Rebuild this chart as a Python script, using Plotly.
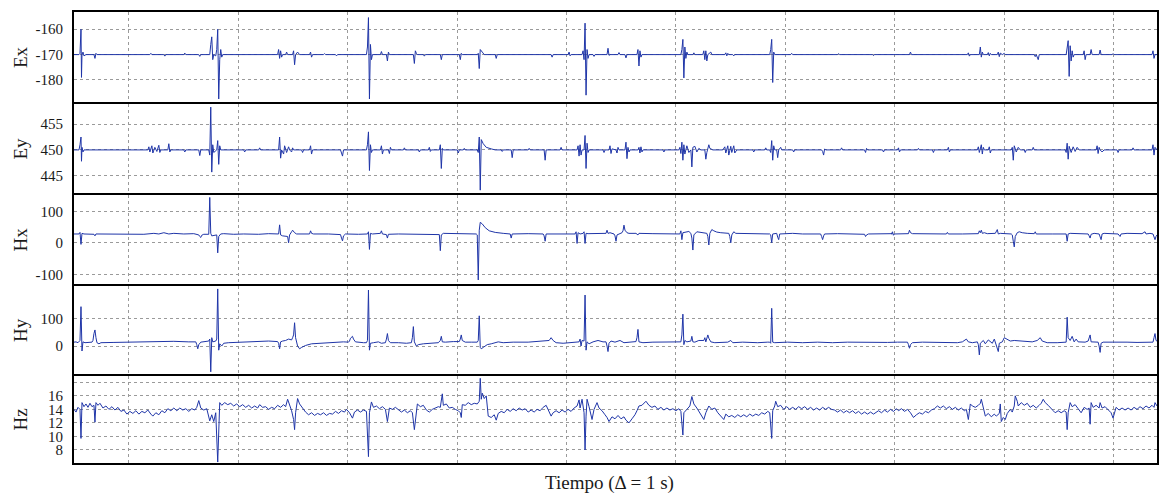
import plotly.graph_objects as go

# Each series: (time sample, value) vertices
ex_pts = [(0,-170),(5,-170),(6,-169.5),(7,-160),(7.5,-179),(8,-170),(9,-169),(10,-170.5),(12,-170),
(20,-170),(21,-171.5),(22,-169.5),(23,-170),
(76,-170),(77,-169.5),(78,-170),(90,-170),(91,-170.6),(92,-170),(110,-170),(111,-169.4),(112,-170),(125,-170),(126,-170.7),(127,-170),
(136,-170),(137,-166),(138,-163),(139,-172),(140,-170),
(142,-170.5),(143,-168),(144,-160),(145,-187.5),(146,-172),(147,-168),(148,-171),(149,-170),
(204,-170),(205,-168),(206,-171.5),(207,-168.5),(208,-171),(209,-170),(212,-170),(213,-169),(214,-170),
(219,-170),(220,-168.5),(221,-174),(222,-170),(224,-169),(226,-170),
(236,-170),(237,-169),(238,-171),(239,-170),
(250,-170),(251,-169.6),(252,-170),(262,-170),(263,-170.5),(264,-170),
(293,-170),(294,-167),(295,-155.4),(296,-187.5),(297,-166),(298,-172),(299,-170),
(307,-170),(308,-168.8),(309,-170),
(313,-170),(314,-172.5),(315,-169),(316,-170),
(340,-170),(341,-173.5),(342,-168.5),(343,-169.5),(344,-170),(350,-170),(351,-170.6),(352,-170),
(367,-170),(368,-172),(369,-170),
(386,-170),(387,-172),(388,-169.5),(389,-170),
(404,-170),(405,-169.5),(406,-175.5),(407,-168),(409,-169),(411,-170),
(422,-170),(423,-171.5),(424,-170),
(478,-170),(479,-171),(480,-170),
(495,-170),(496,-169),(497,-170.5),(498,-170),
(509,-170),(510,-168.5),(511,-172),(512,-157.6),(513,-186),(514,-168),(515,-171.5),(516,-170),(520,-170),(521,-170.7),(522,-170),
(534,-170),(535,-167.5),(536,-170.3),(537,-170),(545,-170),(546,-169.2),(547,-170),
(552,-170),(553,-171.3),(554,-170),
(564,-170),(565,-168),(566,-174.5),(567,-168.5),(568,-171),(569,-170),
(608,-170),(609,-168),(610,-164),(611,-179.2),(612,-167),(613,-171.5),(614,-169),(615,-170),(620,-170),(621,-169.3),(622,-170),
(630,-170),(631,-168.5),(632,-172),(633,-168.5),(634,-172.5),(635,-170),(638,-169),(639,-170),
(652,-170),(653,-169.3),(654,-170.5),(655,-169.5),(656,-170),(660,-170),(661,-170.5),(662,-170),
(697,-170),(698,-168),(699,-164),(700,-181),(701,-169),(702,-170),
(718,-170),(719,-169.5),(720,-170),
(765,-170),(766,-169.6),(767,-170),(800,-170),(801,-170.4),(802,-170),
(837,-170),(838,-169),(839,-170),
(895,-170),(896,-169.3),(897,-170.6),(898,-170),
(907,-170),(908,-167),(909,-171),(910,-169),(911,-170),(915,-170),(916,-169.2),(917,-170.5),(918,-169.5),(919,-170),
(925,-170),(926,-169),(927,-170.8),(928,-169.4),(930,-170),(932,-169.5),(933,-170),
(962,-170),(963,-170.8),(964,-170),(966,-172),(967,-170),
(994,-170),(995,-167.5),(996,-164.5),(997,-178.6),(998,-166.5),(999,-172.5),(1000,-168.5),(1001,-171),(1002,-170),
(1011,-170),(1012,-168.5),(1013,-172),(1014,-170),(1018,-170),(1019,-168),(1020,-170),
(1027,-170),(1028,-168.2),(1029,-170),(1040,-170),(1041,-169.6),(1042,-170),
(1080,-170),(1081,-168.5),(1082,-171.5),(1083,-170),(1085,-170)]

ey_pts = [(0,450),(5,450),(6,451),(7,452.5),(7.5,447.8),(8,450.5),(9,449.6),(10,450),
(74,450),(75,450.6),(76,449.6),(78,450.8),(79,449.4),(81,450.5),(83,449.7),(85,450.9),(86,449.5),(87,450),
(94,450),(95,451.2),(96,449.6),(97,450),
(110,450),(111,449.6),(112,450),
(125,450),(126,448.9),(127,450),
(135,450),(136,449),(137,458.3),(138,445.7),(139,451),(140,449.5),
(143,450),(144,451.8),(145,447.2),(146,450.8),(147,450),
(170,450),(171,449.6),(172,450),(185,450),(186,450.4),(187,450),
(205,450),(206,452.5),(207,448.4),(208,450),(210,449.2),(211,450.8),(213,449.5),(215,450.6),(216,450),(218,449.6),(219,450.4),(220,450),
(228,450),(229,449.5),(230,450),
(236,450),(237,450.8),(238,449.2),(239,450),
(267,450),(268,449.5),(269,448.8),(270,450),
(293,450),(294,451),(295,453.5),(296,446),(297,451),(298,449.5),(299,450),
(307,450),(308,450.8),(309,449.2),(310,450),
(315,450),(316,449.3),(317,450.5),(318,450),
(330,450),(331,450.4),(332,450),
(345,450),(346,449.6),(347,450),(355,450),(356,450.5),(357,449.7),(358,450),
(366,450),(367,451),(368,446.4),(369,450.3),(370,450),
(384,450),(385,449.4),(386,450),(390,450),(391,450.3),(392,450),
(404,450),(405,449.5),(406,452.5),(407,442.2),(408,452),(410,451.2),(413,450.5),(418,450.2),(422,450),
(428,450),(429,449.7),(430,450),
(438,450),(439,448.5),(440,450),
(455,450),(456,450.3),(457,450),
(471,450),(472,448),(473,450),
(487,450),(488,450.5),(489,450),
(504,450),(505,450.8),(506,448.8),(507,451),(508,449),(509,450),
(511,450),(512,452.8),(513,446.4),(514,451.3),(515,449.5),(516,450),
(530,450),(531,449.5),(532,450),(536,450),(537,450.8),(538,449.3),(539,450.2),(543,450),(544,449.4),(545,450.5),(546,450),
(552,450),(553,451.5),(554,448.3),(555,450.5),(556,449.6),(557,450),(565,450),(566,450.5),(567,449.4),(568,450.6),(569,449.6),(570,450),
(590,450),(591,449.6),(592,450),(606,450),(607,450.5),(608,449.3),
(609,451.5),(610,448),(611,451),(612,449.2),(614,450.8),(616,449.5),
(618,450),(619,446.7),(620,450.5),(622,450.7),(624,449.6),(626,450.3),(628,450),
(632,450),(633,448.2),(634,449.5),(636,451),(637,450.3),(640,450),
(650,450),(652,450.6),(653,449.4),(655,450.8),(656,449),(658,450.7),(659,449.5),(661,450.8),(662,449.4),(664,450),
(680,450),(681,449.6),(682,450),(692,450),(693,450.4),(694,450),
(697,450),(698,449.5),(699,451.8),(700,448),(701,450.8),(702,450),
(704,450),(705,448.5),(706,450),(708,450.5),(709,450),
(720,450),(721,449.6),(722,450),
(749,450),(750,449.7),(751,449),(752,450.2),(753,450),
(768,450),(769,450.4),(770,450),
(792,450),(793,449.5),(794,450.3),(795,450),
(810,450),(811,449.6),(812,450),(825,450),(826,450.4),(827,449.6),(828,450),
(845,450),(846,450.3),(847,450),(860,450),(861,449.5),(862,450),(875,450),(876,450.5),(877,449.6),(878,450),
(905,450),(906,450.6),(907,449.5),(909,451),(910,449.2),(911,450.5),(912,450),(916,450),(917,450.6),(918,449.4),(919,450),
(939,450),(940,450.5),(941,448),(942,450.8),(944,449.6),(946,450.5),(948,450),(952,450),(953,449.5),(954,450),(960,450),(961,450.5),(962,450),
(993,450),(994,449.5),(995,451.3),(996,448.2),(997,450.7),(999,449.5),(1001,450.6),(1003,449.7),(1005,450.5),(1007,450),
(1024,450),(1025,450.8),(1026,449.3),(1027,450.5),(1028,450),(1030,449.6),(1032,450),
(1045,450),(1046,449.5),(1047,450),(1060,450),(1061,450.4),(1062,450),
(1080,450),(1081,451),(1082,449),(1083,450.5),(1085,450)]

hx_pts = [(0,28),(5,28),(6,33),(7,-5),(8,30),(10,28),
(20,27),(21,22),(22,28),
(40,28),(60,29),(70,27),(80,30),(85,28),(90,32),(95,28),(100,30),(110,28),(120,29),
(125,25),(126,20),(127,17),(128,24),(130,27),
(135,27),(136,144),(137,30),(138,22),
(143,25),(144,-32),(145,20),(147,28),(150,29),
(160,27),(170,28),(185,27),(195,29),
(204,27),(205,28),(206,57),(207,25),(209,22),(212,22),
(214,20),(215,0),(216,25),(218,35),(219,40),(221,32),(223,28),
(236,28),(237,38),(238,30),(240,28),
(255,28),(265,27),
(267,26),(268,15),(269,6),(270,22),(272,28),
(285,27),(293,28),
(294,28),(295,35),(296,-21),(297,30),(299,28),
(307,30),(308,38),(309,28),
(313,26),(314,15),(315,27),
(325,28),(335,28),
(364,28),(366,26),(367,-25),(368,25),(370,30),
(380,29),(390,28),
(403,28),(404,25),(405,-118),(406,40),(407,65),(409,60),(412,48),(416,38),(422,33),(430,30),
(437,28),(438,15),(439,28),
(455,29),
(470,28),(471,22),(472,5),(473,28),
(490,29),(500,28),
(502,28),(503,35),(504,-2),(505,32),(507,28),
(510,30),(511,35),(512,-2),(513,30),(515,29),
(525,30),
(533,30),(534,40),(535,30),(537,32),
(541,28),(542,22),(543,5),(544,25),(546,28),
(549,32),(550,38),(551,56),(552,40),(554,32),(556,30),
(563,30),(565,25),(566,30),
(580,29),(595,28),(605,28),
(607,28),(608,38),(609,10),(610,32),(613,33),(616,36),
(618,30),(619,15),(620,-23),(621,25),(624,35),(627,33),
(632,30),
(634,30),(635,20),(636,-7),(637,30),
(639,42),(641,38),(644,34),(648,32),(652,30),
(656,30),(657,20),(658,0),(659,25),(661,35),(663,30),
(675,29),(690,28),
(697,28),(698,25),(699,0),(700,28),
(704,30),(705,18),(706,10),(707,28),(710,29),(720,30),(730,28),
(748,28),(749,20),(750,10),(751,22),(752,28),
(765,29),(780,28),
(792,27),(793,20),(794,25),(796,28),
(810,28),(820,29),
(819,28),(820,35),(821,24),(822,28),
(836,29),(837,40),(838,32),(840,29),
(855,28),
(874,28),(875,33),(876,28),
(890,28),(900,29),
(906,29),(907,38),(908,32),(909,40),(910,30),(912,32),(915,29),
(923,30),(924,36),(925,42),(926,28),(928,30),
(939,28),(940,25),(941,5),(942,-13),(943,20),(945,32),(947,35),(950,32),(955,30),
(960,29),
(962,29),(963,35),(964,28),
(980,28),(990,29),
(994,28),(995,5),(996,28),(998,30),
(1010,29),
(1016,28),(1017,22),(1018,15),(1019,27),(1022,30),
(1027,28),(1028,20),(1029,10),(1030,28),(1032,30),
(1046,28),(1047,22),(1048,20),(1049,28),(1055,30),
(1070,29),(1072,32),(1073,35),(1074,28),(1078,30),
(1081,28),(1082,20),(1083,10),(1084,20),(1085,25)]

hy_pts = [(0,14),(2,15),(4,12),(5,15),(6,20),(7,142),(8,-18),(9,15),(11,12),
(18,14),(19,20),(20,45),(21,58),(22,30),(23,12),(25,8),(27,12),
(40,13),(60,14),(80,16),(100,17),(115,15),
(122,15),(123,5),(124,-10),(125,5),(127,14),
(135,18),(136,25),(137,-93),(138,30),(139,15),
(142,18),(143,25),(144,206),(145,-15),(146,8),(148,0),(150,10),(155,12),
(170,14),(185,16),(195,18),
(204,16),(205,10),(206,-10),(207,15),(209,18),
(212,20),(215,25),(218,22),
(219,30),(220,40),(221,84),(222,30),(224,0),(226,-10),(228,-5),(232,2),(238,8),(245,10),
(260,12),(270,15),(275,14),
(276,18),(277,28),(279,35),(280,25),(282,15),(290,12),
(293,12),(294,20),(295,202),(296,-15),(297,10),(300,12),(305,15),(308,10),
(312,12),(313,25),(314,45),(315,20),(317,12),
(325,12),(333,10),
(338,12),(339,30),(340,70),(341,15),(343,0),(345,5),(350,8),(360,10),
(365,12),(367,20),(368,35),(369,15),(372,14),
(380,16),
(386,16),(387,25),(388,40),(389,20),(392,14),
(398,14),(403,14),
(404,14),(405,20),(406,109),(407,-5),(408,-10),(410,-5),(414,5),(418,8),(422,12),
(425,15),(430,12),(440,14),(455,14),(470,18),
(476,20),(477,25),(478,30),(480,20),(483,12),(490,10),(500,14),
(506,15),(507,25),(508,0),(509,20),
(511,18),(512,184),(513,-15),(514,15),(516,8),(520,15),(525,20),(530,15),
(533,15),(534,0),(535,-20),(536,10),(538,18),(542,14),(547,20),(551,12),
(560,14),(563,16),(564,30),(565,60),(566,15),(570,12),
(580,14),(595,14),(605,15),
(608,15),(609,40),(610,115),(611,5),(612,20),(614,15),
(618,18),(619,35),(620,15),(622,14),(626,20),
(631,20),(632,30),(633,15),(634,25),(635,40),(636,28),(638,15),(642,12),
(655,14),(658,20),(660,12),
(670,14),(685,12),(695,14),
(697,14),(698,10),(699,136),(700,14),(702,12),
(715,14),(730,12),(745,14),(760,12),(775,14),(790,13),(800,14),(815,13),(825,14),
(835,14),(836,5),(837,-8),(838,5),(840,12),
(850,14),(870,14),(885,12),
(890,15),(892,20),(894,25),(896,15),(900,12),
(905,15),(906,5),(907,-32),(908,10),(911,20),(913,8),(916,22),
(920,10),(922,25),(924,5),(926,-20),(927,10),(930,15),(932,30),(934,25),(938,18),(942,20),
(960,15),(965,20),(968,30),(970,18),(975,12),
(985,12),(992,14),
(994,14),(995,104),(996,30),(998,20),(1000,35),(1002,15),(1004,25),(1006,15),
(1013,14),(1016,18),(1018,40),(1019,15),(1022,14),
(1026,14),(1027,0),(1028,-23),(1029,10),(1031,14),
(1040,14),(1048,15),(1055,14),(1065,13),(1075,14),
(1081,14),(1082,30),(1083,45),(1084,20),(1085,18)]

hz_pts = [(0,14.0),(2,13.6),(4,14.3),(6,14.0),(7,9.7),(8,15.0),(10,14.4),(12,14.8),(14,14.3),(16,14.9),(18,14.4),(20,14.6),(21,12.1),(22,15.0),(24,14.6),(26,14.9),(29,14.2),(32,14.5),(35,14.0),(38,14.4),(41,13.9),(44,14.3),(47,13.7),(50,13.9),(53,13.3),(56,13.7),(59,13.4),(62,13.8),(65,13.3),(68,13.7),(71,13.5),(74,13.9),(77,13.3),(79,13.0),(82,13.5),(85,13.2),(88,13.8),(91,13.5),(94,14.1),(97,13.8),(100,14.2),(103,13.8),(106,14.2),(109,13.9),(112,14.1),(115,13.7),(118,14.1),(121,13.9),(123,14.3),(125,15.3),(127,14.2),(130,13.9),(133,14.1),(136,12.3),(138,13.2),(140,12.2),(142,13.5),(144,6.2),(146,15.0),(148,14.6),(151,15.0),(154,14.7),(157,14.9),(160,14.5),(163,14.8),(166,14.4),(169,14.7),(172,14.3),(175,14.6),(178,14.2),(181,14.5),(184,14.2),(186,14.7),(189,14.3),(192,14.4),(195,14.0),(198,14.3),(201,14.1),(204,14.6),(207,14.3),(210,14.7),(212,14.4),(214,15.5),(216,14.6),(218,13.8),(220,12.5),(221,11.0),(222,13.5),(224,15.6),(226,14.8),(228,14.4),(230,14.0),(232,13.6),(235,13.2),(238,13.5),(241,13.1),(244,13.4),(247,13.2),(250,13.5),(253,13.1),(256,13.4),(259,13.3),(262,13.7),(265,13.4),(268,13.8),(271,13.6),(273,14.0),(276,13.5),(279,12.7),(281,13.6),(284,13.9),(287,13.6),(290,13.9),(293,13.7),(295,7.0),(296,13.5),(298,15.1),(300,14.3),(303,14.5),(306,14.1),(309,14.4),(312,14.0),(314,12.2),(316,14.2),(319,14.0),(322,14.3),(325,13.9),(328,13.6),(331,13.9),(334,13.5),(337,13.8),(339,13.5),(341,11.0),(343,13.5),(344,14.8),(347,14.4),(350,14.6),(353,13.9),(356,13.6),(359,14.0),(362,14.2),(365,14.4),(367,14.3),(369,16.3),(370,14.6),(373,14.8),(376,14.2),(379,14.3),(382,14.0),(385,13.8),(387,13.5),(388,12.8),(389,14.7),(392,14.6),(395,15.0),(398,14.7),(401,14.9),(404,14.8),(406,15.2),(407,18.6),(408,15.5),(409,16.4),(411,15.6),(413,16.0),(415,13.0),(418,12.8),(421,13.2),(423,12.4),(425,13.4),(428,13.7),(431,13.5),(434,14.0),(437,13.7),(440,14.1),(443,13.8),(446,14.2),(449,13.9),(452,14.1),(455,13.6),(458,13.9),(461,13.6),(464,14.0),(467,13.8),(470,14.3),(473,14.6),(475,14.0),(478,13.0),(480,13.5),(483,13.8),(486,13.5),(489,13.9),(492,13.6),(495,14.0),(498,13.7),(501,14.2),(504,14.5),(506,15.4),(507,14.2),(509,15.5),(511,13.5),(512,8.0),(513,13.0),(514,15.5),(516,14.4),(518,13.0),(519,12.5),(521,14.0),(524,15.0),(526,14.2),(529,13.8),(532,13.2),(534,12.8),(536,12.2),(539,12.9),(542,12.6),(545,13.1),(548,12.6),(551,12.9),(553,12.4),(556,12.0),(559,12.6),(562,13.2),(564,13.8),(566,14.5),(569,14.6),(571,14.9),(573,15.2),(576,14.6),(579,14.3),(582,14.5),(585,14.0),(588,14.3),(591,13.9),(594,14.2),(597,13.9),(600,14.1),(603,13.8),(606,14.1),(608,13.7),(610,10.2),(611,13.5),(614,14.0),(617,14.5),(619,15.9),(621,14.8),(624,14.2),(627,13.5),(629,13.0),(631,12.5),(633,13.5),(636,14.5),(639,14.0),(642,14.2),(645,13.5),(648,13.0),(651,12.5),(653,13.3),(656,12.9),(659,13.1),(662,12.8),(665,13.2),(668,12.9),(671,13.2),(674,12.9),(677,13.3),(680,13.0),(683,13.3),(686,13.1),(689,13.5),(692,13.3),(695,13.7),(697,13.5),(699,9.7),(700,13.8),(702,14.5),(703,15.2),(705,14.4),(708,14.6),(711,14.0),(714,14.4),(717,14.0),(720,14.3),(723,14.0),(726,14.4),(729,14.1),(732,14.4),(735,14.0),(738,14.3),(741,13.9),(744,14.2),(747,13.9),(750,14.3),(753,14.0),(756,14.3),(759,14.0),(762,13.9),(765,13.6),(768,13.9),(771,13.5),(774,13.8),(777,13.5),(780,13.8),(783,13.4),(786,13.7),(789,13.3),(792,13.6),(795,13.3),(798,13.6),(801,13.3),(803,13.5),(806,13.8),(809,13.5),(812,13.9),(815,13.6),(818,14.0),(821,13.7),(824,14.1),(826,13.8),(829,14.1),(832,13.7),(835,14.0),(838,13.5),(841,12.8),(844,13.2),(847,13.5),(850,13.3),(853,13.7),(856,13.5),(859,13.9),(862,14.1),(865,14.5),(868,14.2),(871,14.5),(874,14.1),(877,14.4),(880,14.0),(883,14.3),(886,13.9),(889,14.2),(892,13.8),(894,14.0),(896,12.5),(898,14.8),(900,14.5),(903,14.3),(906,14.6),(908,14.9),(909,15.5),(911,14.0),(913,13.0),(916,13.4),(919,12.9),(922,13.3),(924,13.0),(927,13.4),(928,14.8),(929,12.2),(931,12.8),(933,12.5),(935,13.4),(938,14.0),(940,13.6),(942,14.5),(943,16.0),(945,15.2),(946,14.5),(949,15.0),(952,14.6),(955,14.9),(958,14.3),(961,14.6),(964,14.2),(967,14.6),(969,14.9),(971,15.5),(973,15.0),(976,14.6),(979,14.2),(981,13.8),(983,13.5),(986,13.8),(989,13.5),(992,13.8),(994,13.6),(995,11.0),(996,13.5),(998,15.0),(1000,14.4),(1003,14.7),(1006,14.1),(1009,13.5),(1012,14.3),(1015,14.0),(1017,14.2),(1018,11.8),(1019,15.0),(1021,14.3),(1024,14.6),(1027,14.2),(1028,15.0),(1030,14.2),(1033,14.4),(1036,13.9),(1039,13.5),(1041,12.7),(1043,13.8),(1044,14.3),(1047,13.9),(1050,14.2),(1053,13.9),(1056,14.2),(1059,13.9),(1062,14.3),(1065,14.0),(1068,14.4),(1071,14.1),(1074,14.5),(1077,14.2),(1080,14.6),(1082,14.3),(1083,15.0),(1085,14.5)]

channel_names = ["Ex", "Ey", "Hx", "Hy", "Hz"]
y_ranges = [[-188.7, -153.2], [441.65, 458.9], [-130.8, 151.7], [-101, 216.6], [6.06, 18.94]]
y_tickvals = [[-180, -170, -160], [445, 450, 455], [-100, 0, 100], [0, 100], [8, 10, 12, 14, 16, 18]]
y_ticktext = [["-180", "-170", "-160"], ["445", "450", "455"], ["-100", "0", "100"], ["0", "100"], ["8", "10", "12", "14", "16", ""]]
x_title = "Tiempo (Δ = 1 s)"

series = [ex_pts, ey_pts, hx_pts, hy_pts, hz_pts]
domains = [[0.8004, 1.0], [0.5987, 0.796], [0.3969, 0.5942], [0.1973, 0.3925], [0.0, 0.1929]]

FONT = "Liberation Serif"
LINE = "#1f35a8"

fig = go.Figure()
layout = dict(
    width=1159, height=496,
    margin=dict(l=74, r=0, t=12, b=33),
    paper_bgcolor="white", plot_bgcolor="white",
    showlegend=False,
    font=dict(family=FONT, size=15, color="#1a1a1a"),
)
annotations = []
for i, (pts, name) in enumerate(zip(series, channel_names)):
    n = i + 1
    xs = [p[0] for p in pts]
    ys = [p[1] for p in pts]
    fig.add_trace(go.Scatter(x=xs, y=ys, mode="lines",
                             line=dict(color=LINE, width=1),
                             xaxis="x" if n == 1 else f"x{n}",
                             yaxis="y" if n == 1 else f"y{n}",
                             hoverinfo="skip"))
    xa = dict(domain=[0, 1], range=[0, 1085], anchor="y" if n == 1 else f"y{n}",
              showticklabels=False, ticks="", tick0=55, dtick=109.6,
              showgrid=True, gridcolor="#9a9a9a", griddash="dot", gridwidth=1,
              showline=True, linecolor="black", linewidth=2, mirror=True, zeroline=False)
    ya = dict(domain=domains[i], range=y_ranges[i], anchor="x" if n == 1 else f"x{n}",
              tickmode="array", tickvals=y_tickvals[i], ticktext=y_ticktext[i],
              ticks="", ticklabelstandoff=6,
              tickfont=dict(family=FONT, size=15, color="#1a1a1a"),
              showgrid=True, gridcolor="#9a9a9a", griddash="dot", gridwidth=1,
              showline=True, linecolor="black", linewidth=2, mirror=True, zeroline=False)
    layout["xaxis" if n == 1 else f"xaxis{n}"] = xa
    layout["yaxis" if n == 1 else f"yaxis{n}"] = ya
    annotations.append(dict(text=name, xref="paper", yref="paper",
                            x=-0.0498, y=(domains[i][0] + domains[i][1]) / 2,
                            xanchor="center", yanchor="middle", textangle=-90,
                            showarrow=False, font=dict(family=FONT, size=19, color="#1a1a1a")))

annotations.append(dict(text=x_title, xref="paper", yref="paper", x=0.494, y=-0.0443,
                        xanchor="center", yanchor="middle", showarrow=False,
                        font=dict(family=FONT, size=19, color="#1a1a1a")))
layout["annotations"] = annotations
fig.update_layout(**layout)
fig.write_html("out.html")
